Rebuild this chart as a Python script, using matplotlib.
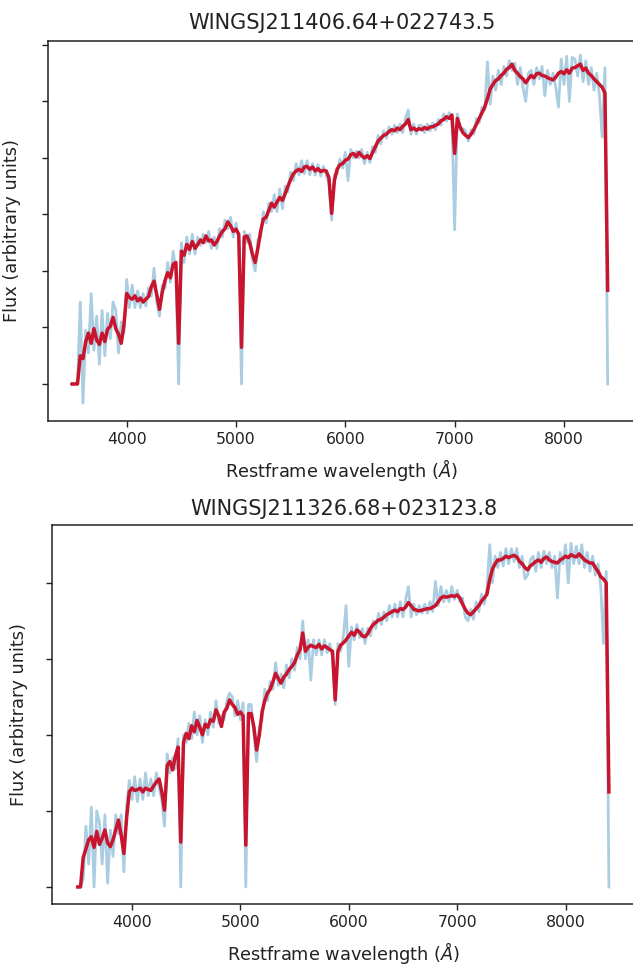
import numpy as np
import matplotlib
matplotlib.use("Agg")
import matplotlib.pyplot as plt

# ---------------- data ----------------
titles = ["WINGSJ211406.64+022743.5", "WINGSJ211326.68+023123.8"]
xlabel = "Restframe wavelength ($\\AA$)"
ylabel = "Flux (arbitrary units)"
xticks = [4000, 5000, 6000, 7000, 8000]

# wavelength grid (Angstrom), 3500 .. 8400 step 25
wave = np.arange(3500, 8401, 25)

# spectrum 1 : observed (blue) and fitted (red), arbitrary flux units
obs1 = [
    0, 0, 0.05, 1.45, -0.34, 0.95, 0.55, 1.6,
    0.6, 1.2, 0.35, 1.3, 0.5, 1.25, 0.8, 1.45,
    1.3, 0.55, 1.1, 0.9, 1.85, 1.35, 1.75, 1.35,
    1.65, 1.35, 1.6, 1.38, 1.7, 1.55, 2.05, 1.45,
    1.2, 1.75, 1.7, 2.15, 1.8, 2.35, 2.0, 0.0,
    2.5, 2.15, 2.6, 2.3, 2.65, 2.3, 2.6, 2.45,
    2.65, 2.5, 2.7, 2.4, 2.6, 2.4, 2.75, 2.6,
    2.9, 2.75, 2.95, 2.6, 2.85, 2.55, 0.0, 2.7,
    2.5, 2.65, 2.2, 2.0, 2.55, 2.6, 3.05, 2.85,
    3.2, 3.05, 3.35, 3.05, 3.45, 3.1, 3.5, 3.4,
    3.75, 3.6, 3.9, 3.7, 3.95, 3.72, 3.95, 3.7,
    3.9, 3.7, 3.88, 3.68, 3.85, 3.7, 3.55, 2.9,
    3.7, 3.72, 3.98, 3.82, 4.1, 3.6, 4.15, 4.0,
    4.12, 4.0, 4.15, 3.9, 4.1, 3.92, 4.2, 4.1,
    4.4, 4.25, 4.48, 4.35, 4.55, 4.42, 4.58, 4.45,
    4.6, 4.45, 4.7, 4.85, 4.42, 4.6, 4.42, 4.58,
    4.57, 4.45, 4.6, 4.48, 4.62, 4.5, 4.68, 4.58,
    4.78, 4.65, 4.8, 4.7, 2.73, 4.78, 4.5, 4.52,
    4.48, 4.3, 4.5, 4.42, 4.7, 4.62, 4.9, 4.85,
    5.7, 4.95, 5.45, 5.2, 5.55, 5.3, 5.62, 5.45,
    5.72, 5.55, 5.68, 5.3, 5.6, 5.25, 5.0, 5.5,
    5.55, 5.3, 5.6, 5.4, 5.62, 5.1, 5.55, 5.3,
    5.5, 5.25, 4.9, 5.75, 5.3, 5.8, 5.0, 5.78,
    5.75, 5.45, 5.82, 5.35, 5.72, 5.3, 5.6, 5.2,
    5.5, 5.1, 4.37, 5.6, 0.0,
]
fit1 = [
    0, 0, 0, 0.5, 0.45, 0.75, 0.9, 0.72,
    0.98, 0.78, 0.7, 0.9, 0.75, 0.97, 1.02, 1.18,
    0.98, 0.88, 0.72, 1.05, 1.6, 1.53, 1.5, 1.56,
    1.47, 1.52, 1.45, 1.5, 1.55, 1.72, 1.82, 1.58,
    1.32, 1.62, 1.83, 1.97, 1.88, 2.12, 2.15, 0.72,
    2.35, 2.28, 2.47, 2.38, 2.52, 2.4, 2.47, 2.55,
    2.5, 2.62, 2.53, 2.55, 2.46, 2.52, 2.62, 2.7,
    2.75, 2.87, 2.8, 2.7, 2.74, 2.65, 0.65, 2.6,
    2.62, 2.5, 2.3, 2.15, 2.4, 2.7, 2.92, 2.95,
    3.07, 3.2, 3.13, 3.22, 3.3, 3.25, 3.37, 3.5,
    3.62, 3.72, 3.77, 3.8, 3.76, 3.84, 3.85, 3.8,
    3.84, 3.77, 3.81, 3.76, 3.78, 3.77, 3.65, 3.02,
    3.6, 3.8, 3.88, 3.9, 3.96, 3.98, 4.06, 4.08,
    4.02, 4.1, 4.04, 4.0, 4.04, 3.99, 4.1, 4.2,
    4.3, 4.35, 4.4, 4.42, 4.47, 4.5, 4.48, 4.53,
    4.5, 4.56, 4.6, 4.68, 4.5, 4.53, 4.49, 4.52,
    4.5, 4.54, 4.51, 4.55, 4.55, 4.58, 4.6, 4.66,
    4.68, 4.73, 4.7, 4.76, 4.08, 4.7, 4.55, 4.45,
    4.4, 4.36, 4.42, 4.5, 4.6, 4.7, 4.8, 4.9,
    5.05, 5.22, 5.3, 5.37, 5.4, 5.46, 5.5, 5.57,
    5.6, 5.66, 5.55, 5.5, 5.44, 5.4, 5.33, 5.4,
    5.46, 5.42, 5.49, 5.5, 5.46, 5.45, 5.42, 5.4,
    5.38, 5.43, 5.5, 5.53, 5.49, 5.56, 5.5, 5.59,
    5.6, 5.63, 5.66, 5.55, 5.59, 5.5, 5.46, 5.4,
    5.35, 5.3, 5.25, 5.15, 1.66,
]

# spectrum 2
obs2 = [
    0, 0, 0.1, 0.8, 0.3, 1.05, 0.0, 1.0,
    0.85, 0.3, 0.95, 0.05, 0.75, 0.4, 0.95, 0.7,
    0.95, 0.2, 1.05, 1.4, 1.15, 1.45, 1.12, 1.42,
    1.15, 1.5, 1.2, 1.42, 1.2, 1.5, 1.3, 1.15,
    0.8, 1.75, 1.5, 1.7, 1.55, 1.95, 0.0, 2.0,
    1.9, 2.15, 1.95, 2.3, 2.0, 2.25, 1.9, 2.2,
    2.0, 2.3, 2.1, 2.45, 2.15, 2.25, 2.2, 2.45,
    2.55, 2.5, 2.25, 2.45, 2.2, 2.42, 0.0, 2.4,
    2.4, 2.0, 1.65, 2.1, 2.2, 2.6, 2.45, 2.7,
    2.6, 2.95, 2.65, 2.8, 2.62, 2.92, 2.75, 3.0,
    2.85, 3.15, 3.0, 3.5, 3.0, 3.25, 2.72, 3.25,
    3.05, 3.25, 3.05, 3.25, 3.08, 3.2, 3.02, 2.4,
    3.2, 3.1, 3.3, 3.7, 2.9, 3.42, 3.25, 3.45,
    3.28, 3.4, 3.2, 3.4, 3.3, 3.5, 3.4, 3.6,
    3.45, 3.62, 3.5, 3.7, 3.55, 3.72, 3.55, 3.75,
    3.55, 3.78, 3.95, 3.55, 3.72, 3.58, 3.7, 3.6,
    3.72, 3.6, 3.75, 3.62, 4.02, 3.7, 3.95, 3.75,
    3.9, 3.75, 3.95, 3.78, 3.9, 3.75, 3.8, 3.55,
    3.5, 3.65, 3.52, 3.75, 3.62, 3.85, 3.72, 3.92,
    4.5, 4.0, 4.35, 4.2, 4.4, 4.22, 4.45, 4.25,
    4.45, 4.28, 4.45, 4.2, 4.35, 4.05, 4.1, 4.3,
    4.35, 4.15, 4.4, 4.2, 4.42, 4.25, 4.4, 4.2,
    4.35, 3.8, 4.4, 4.25, 4.5, 4.0, 4.52, 4.25,
    4.48, 4.25, 4.5, 4.2, 4.4, 4.15, 4.35, 4.1,
    4.25, 3.95, 3.2, 4.15, 0.0,
]
fit2 = [
    0, 0, 0.39, 0.5, 0.62, 0.66, 0.52, 0.73,
    0.56, 0.64, 0.75, 0.58, 0.53, 0.62, 0.75, 0.88,
    0.68, 0.44, 0.9, 1.25, 1.3, 1.27, 1.28, 1.3,
    1.25, 1.3, 1.28, 1.27, 1.33, 1.38, 1.42, 1.25,
    1.01, 1.6, 1.65, 1.54, 1.72, 1.84, 0.59, 1.9,
    2.02, 1.95, 2.12, 2.04, 2.19, 2.1, 2.0, 2.14,
    2.1, 2.2, 2.18, 2.33, 2.25, 2.11, 2.3, 2.35,
    2.46, 2.4, 2.36, 2.27, 2.3, 2.25, 0.55, 2.28,
    2.28, 2.1, 1.8, 2.0, 2.3, 2.45, 2.55, 2.6,
    2.7, 2.81, 2.74, 2.68, 2.76, 2.8, 2.86, 2.9,
    2.95, 3.05, 3.12, 3.34, 3.1, 3.15, 3.18, 3.16,
    3.15, 3.19, 3.13, 3.17, 3.15, 3.12, 3.1, 2.46,
    3.1, 3.18, 3.21, 3.25, 3.3, 3.35, 3.31, 3.38,
    3.35, 3.3, 3.29, 3.33, 3.4, 3.45, 3.48, 3.51,
    3.52, 3.55, 3.58, 3.6, 3.62, 3.64, 3.62, 3.66,
    3.65, 3.68, 3.74, 3.7, 3.65, 3.64, 3.63, 3.64,
    3.65, 3.66, 3.66, 3.68, 3.7, 3.75, 3.8, 3.82,
    3.81, 3.82, 3.83, 3.82, 3.84, 3.8, 3.72, 3.65,
    3.6, 3.58, 3.62, 3.66, 3.7, 3.76, 3.8, 3.85,
    4.04, 4.18, 4.25, 4.3, 4.3, 4.32, 4.35, 4.33,
    4.35, 4.36, 4.34, 4.28, 4.25, 4.2, 4.17, 4.22,
    4.25, 4.28, 4.3, 4.27, 4.32, 4.34, 4.3, 4.28,
    4.27, 4.26, 4.3, 4.32, 4.35, 4.33, 4.37, 4.35,
    4.34, 4.38, 4.34, 4.3, 4.28, 4.26, 4.26, 4.2,
    4.15, 4.08, 4.05, 4.0, 1.25,
]

# ---------------- style / layout ----------------
obs_color = "#abcde2"
fit_color = "#c8142d"

W, H = 633, 965
fig = plt.figure(figsize=(W / 100, H / 100), dpi=100)

panels = [
    dict(rect=(48, 41, 635, 421), obs=obs1, fit=fit1, xlim=(3280, 8650),
         ylim=(-0.655, 6.07), yticks=range(0, 7), tpad=8.5, ylx=21),
    dict(rect=(52, 525, 636, 904), obs=obs2, fit=fit2, xlim=(3262, 8650),
         ylim=(-0.224, 4.76), yticks=range(0, 5), tpad=7.0, ylx=28),
]

for title, p in zip(titles, panels):
    l, t, r, b = p["rect"]
    ax = fig.add_axes([l / W, 1 - b / H, (r - l) / W, (b - t) / H])
    ax.plot(wave, p["obs"], color=obs_color, lw=2.0)
    ax.plot(wave, p["fit"], color=fit_color, lw=2.5)
    ax.set_xlim(*p["xlim"])
    ax.set_ylim(*p["ylim"])
    ax.set_xticks(xticks)
    ax.set_yticks(list(p["yticks"]))
    ax.set_yticklabels([])
    ax.tick_params(axis="both", length=4.5, width=1.0, labelsize=11.3,
                   colors="#222222")
    for s in ax.spines.values():
        s.set_linewidth(1.1)
        s.set_color("#222222")
    ax.set_title(title, fontsize=15, pad=p["tpad"], color="#222222")
    ax.set_xlabel(xlabel, fontsize=12.8, labelpad=7, color="#222222")
    ax.set_ylabel(ylabel, fontsize=12.8, color="#222222")
    ax.yaxis.set_label_coords((p["ylx"] - l) / (r - l), 0.5)

fig.savefig("out.png", dpi=100)
